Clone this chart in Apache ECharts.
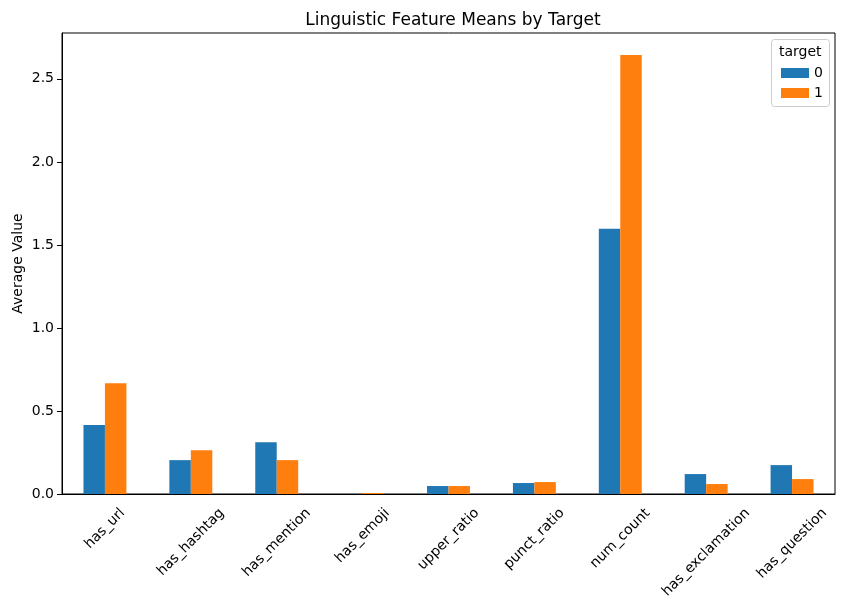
<!DOCTYPE html>
<html>
<head>
<meta charset="utf-8">
<script src="https://cdn.jsdelivr.net/npm/echarts@6/dist/echarts.min.js"></script>
<style>
  html, body { margin: 0; padding: 0; background: #fff; }
  #main { width: 846px; height: 606px; }
</style>
</head>
<body>
<div id="main"></div>
<script>
// feature names (x axis)
var features = ['has_url', 'has_hashtag', 'has_mention', 'has_emoji', 'upper_ratio',
                'punct_ratio', 'num_count', 'has_exclamation', 'has_question'];
// mean per target group
var target0 = [0.415, 0.204, 0.312, 0.0, 0.048, 0.066, 1.598, 0.120, 0.174];
var target1 = [0.667, 0.264, 0.204, 0.006, 0.048, 0.072, 2.644, 0.060, 0.090];
var yTicks = [0, 0.5, 1.0, 1.5, 2.0, 2.5];

var dom = document.getElementById('main');
var myChart = echarts.init(dom);
var font = 'DejaVu Sans';
var fs = 14;

// rotated labels centred under the tick (like matplotlib ha=center):
// push each label along and across its own direction by half its size
var ctx = document.createElement('canvas').getContext('2d');
ctx.font = fs + 'px "DejaVu Sans"';
var xCats = features.map(function (f) {
    var p = (ctx.measureText(f).width + fs) / 2;
    return {
        value: f,
        textStyle: {
            align: 'center', verticalAlign: 'top',
            lineHeight: p, padding: [0, p, 0, 0]
        }
    };
});

var option = {
    color: ['#1f77b4', '#ff7f0e'],
    animation: false,
    textStyle: { fontFamily: font },
    title: {
        text: 'Linguistic Feature Means by Target',
        left: 448, top: 7, textAlign: 'center',
        textStyle: { fontFamily: font, fontSize: 17, fontWeight: 'normal', color: '#000' }
    },
    legend: {
        orient: 'vertical',
        left: 776, top: 61,
        itemWidth: 28, itemHeight: 10, itemGap: 6,
        textStyle: { fontFamily: font, fontSize: fs, color: '#000' },
        icon: 'rect',
        data: ['0', '1']
    },
    graphic: [
        {
            type: 'rect', left: 771, top: 39,
            shape: { width: 58, height: 67, r: 3 },
            style: { fill: 'rgba(255,255,255,0.8)', stroke: '#ccc', lineWidth: 1 },
            z: 0
        },
        {
            type: 'text', left: 779, top: 45,
            style: { text: 'target', font: fs + 'px "DejaVu Sans"', fill: '#000' },
            z: 10
        }
    ],
    grid: {
        left: 62, right: 11, top: 33, bottom: 112,
        outerBoundsMode: 'none',
        show: true, borderColor: '#000', borderWidth: 1
    },
    xAxis: {
        type: 'category',
        data: xCats,
        axisLine: { lineStyle: { color: '#000' } },
        axisTick: { alignWithLabel: true, length: 5, lineStyle: { color: '#000' } },
        axisLabel: {
            rotate: 45, interval: 0,
            showMinLabel: true, showMaxLabel: true,
            fontFamily: font, fontSize: fs, color: '#000', margin: 12
        }
    },
    yAxis: {
        type: 'value',
        min: 0, max: 2.776, interval: 0.5,
        name: 'Average Value',
        nameLocation: 'middle',
        nameGap: 37,
        nameMoveOverlap: false,
        nameTextStyle: { fontFamily: font, fontSize: fs, color: '#000' },
        splitLine: { show: false },
        axisLine: { show: true, lineStyle: { color: '#000' } },
        axisTick: { show: true, length: 5, lineStyle: { color: '#000' } },
        axisLabel: {
            showMaxLabel: false,
            fontFamily: font, fontSize: fs, color: '#000',
            formatter: function (v) {
                return yTicks.indexOf(v) >= 0 ? v.toFixed(1) : '';
            }
        }
    },
    series: [
        { name: '0', type: 'bar', data: target0, barGap: '0%', barCategoryGap: '50%' },
        { name: '1', type: 'bar', data: target1, barGap: '0%', barCategoryGap: '50%' }
    ]
};
if (option && typeof option === "object") {
    myChart.setOption(option);
}
</script>
</body>
</html>
